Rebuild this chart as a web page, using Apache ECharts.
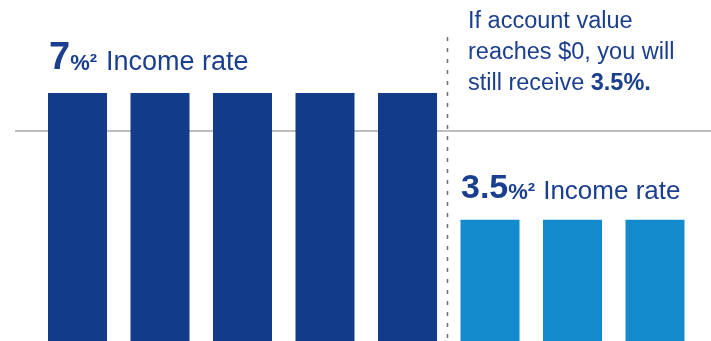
<!DOCTYPE html>
<html>
<head>
<meta charset="utf-8">
<style>
html,body{margin:0;padding:0;background:#fff;}
#chart{width:711px;height:341px;}
</style>
<script src="https://cdn.jsdelivr.net/npm/echarts@6/dist/echarts.min.js"></script>
</head>
<body>
<div id="chart"></div>
<script>
// === 資料 ===
const years=['1','2','3','4','5','6','7','8'];
const fullRate=[7,7,7,7,7,null,null,null];      // 7% income rate
const reducedRate=[null,null,null,null,null,3.42,3.42,3.42]; // 3.5% after $0

// === 顏色 ===
const DARK='#123b8a',LIGHT='#128acc',TXT='#1b3f8f';
const FONT='"Liberation Sans", Arial, sans-serif';

const chart=echarts.init(document.getElementById('chart'),null,{renderer:'canvas'});

chart.setOption({
  animation:false,
  grid:{left:36.25,right:14.75,top:93,bottom:0},
  xAxis:{type:'category',data:years,show:false},
  yAxis:{type:'value',min:0,max:7,show:false},
  series:[
    {type:'bar',data:fullRate,barWidth:59,barGap:'-100%',itemStyle:{color:DARK},z:3},
    {type:'bar',data:reducedRate,barWidth:59,itemStyle:{color:LIGHT},z:3}
  ],
  graphic:[
    // 參考橫線
    {type:'line',z:0,shape:{x1:15,y1:131,x2:711,y2:131},style:{stroke:'#a8a8a8',lineWidth:1.5}},
    // 分隔虛線
    {type:'line',z:10,shape:{x1:447.5,y1:37,x2:447.5,y2:341},style:{stroke:'#6e6e6e',lineWidth:1.5,lineDash:[4,7]}},
    {type:'text',z:10,left:49,top:40,style:{
      text:'{a|7}{b|%²}{c|Income rate}',
      rich:{
        a:{fontSize:38,fontWeight:'bold',fontFamily:FONT,fill:TXT,verticalAlign:'bottom'},
        b:{fontSize:22,fontWeight:'bold',fontFamily:FONT,fill:TXT,verticalAlign:'bottom',padding:[0,0,3,0]},
        c:{fontSize:27,fontFamily:FONT,fill:TXT,verticalAlign:'bottom',padding:[0,0,2,9]}
      }
    }},
    {type:'text',z:10,left:461,top:172,style:{
      text:'{a|3.5}{b|%²}{c|Income rate}',
      rich:{
        a:{fontSize:34,fontWeight:'bold',fontFamily:FONT,fill:TXT,verticalAlign:'bottom'},
        b:{fontSize:22,fontWeight:'bold',fontFamily:FONT,fill:TXT,verticalAlign:'bottom',padding:[0,0,2,0]},
        c:{fontSize:26,fontFamily:FONT,fill:TXT,verticalAlign:'bottom',padding:[0,0,1,8]}
      }
    }},
    {type:'text',z:10,left:468,top:10,style:{
      text:'{n|If account value}\n{n|reaches $0, you will}\n{n|still receive }{b|3.5%.}',
      rich:{
        n:{fontSize:23.5,fontFamily:FONT,fill:TXT,lineHeight:31},
        b:{fontSize:23.5,fontWeight:'bold',fontFamily:FONT,fill:TXT,lineHeight:31}
      }
    }}
  ]
});
</script>
</body>
</html>
